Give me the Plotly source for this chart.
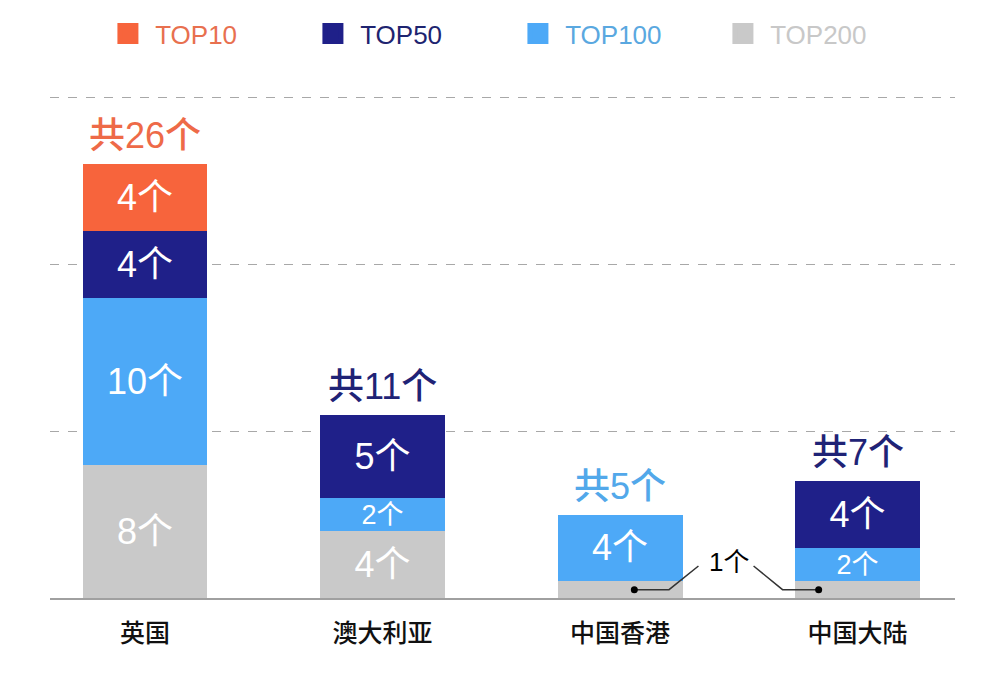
import plotly.graph_objects as go

categories = ["英国", "澳大利亚", "中国香港", "中国大陆"]
series_names = ["TOP10", "TOP50", "TOP100", "TOP200"]
top10 = [4, 0, 0, 0]
top50 = [4, 5, 0, 4]
top100 = [10, 2, 4, 2]
top200 = [8, 4, 1, 1]
totals = [26, 11, 5, 7]
total_colors = ["#EE6A48", "#1F2376", "#52A8EA", "#1F2376"]

bar_colors = {"TOP10": "#F7643C", "TOP50": "#1F2089", "TOP100": "#4DA9F7", "TOP200": "#C9C9C9"}
legend_text_colors = {"TOP10": "#E8704F", "TOP50": "#1E2470", "TOP100": "#5AA8E0", "TOP200": "#C8C8C8"}
values = {"TOP10": top10, "TOP50": top50, "TOP100": top100, "TOP200": top200}

FONT = "Liberation Sans, Noto Sans CJK SC, sans-serif"
CJK = "Noto Sans CJK SC, sans-serif"
xs = list(range(len(categories)))

fig = go.Figure()

# stacked bars, bottom first
for name in ["TOP200", "TOP100", "TOP50", "TOP10"]:
    vals = values[name]
    fig.add_trace(go.Bar(
        x=xs, y=vals, name=name, showlegend=False,
        marker=dict(color=bar_colors[name], line=dict(width=0)),
        width=0.526,
        text=[f"{v}个" if v > 1 else "" for v in vals],
        textposition="inside", insidetextanchor="middle",
        textfont=dict(color="white", size=[27 if v <= 2 else 36 for v in vals], family=FONT),
        constraintext="none",
        hoverinfo="skip",
    ))

# legend entries
for name in series_names:
    fig.add_trace(go.Scatter(
        x=[None], y=[None], mode="markers",
        name=f"&nbsp;<span style='color:{legend_text_colors[name]}'>{name}</span>",
        marker=dict(symbol="square", size=16, color=bar_colors[name],
                    line=dict(color=bar_colors[name], width=5)),
    ))

# total labels
for i, (t, c) in enumerate(zip(totals, total_colors)):
    fig.add_annotation(x=xs[i], y=t, text=f"共{t}个", showarrow=False, yanchor="bottom", yshift=6,
                       font=dict(size=36, color=c, family=FONT, weight=500))

# leader lines for the "1个" segments
hk, cn = xs[2], xs[3]
mid_y = top200[2] / 2
fig.add_trace(go.Scatter(x=[hk + 0.06, hk + 0.206, hk + 0.33], y=[mid_y, mid_y, 1.92], mode="lines",
                         line=dict(color="#333333", width=1.5), showlegend=False, hoverinfo="skip"))
fig.add_trace(go.Scatter(x=[cn - 0.164, cn - 0.316, cn - 0.438], y=[top200[3] / 2, top200[3] / 2, 1.92], mode="lines",
                         line=dict(color="#333333", width=1.5), showlegend=False, hoverinfo="skip"))
fig.add_trace(go.Scatter(x=[hk + 0.06, cn - 0.164], y=[mid_y, top200[3] / 2], mode="markers",
                         marker=dict(color="black", size=7), showlegend=False, hoverinfo="skip"))
fig.add_annotation(x=hk + 0.46, y=2.16, text=f"{top200[2]}个", showarrow=False,
                   font=dict(size=26, color="black", family=FONT))

# page body has an 8px margin, so the figure is 8px smaller than the window
fig.update_layout(
    width=992, height=673,
    margin=dict(l=42, r=45, t=73, b=83, autoexpand=False),
    barmode="stack",
    plot_bgcolor="white", paper_bgcolor="white",
    font=dict(family=FONT),
    legend=dict(orientation="h", traceorder="normal", x=0.064, xanchor="left", y=0.997, yanchor="top",
                yref="container", entrywidth=160, entrywidthmode="pixels",
                font=dict(size=26, family=FONT), bgcolor="rgba(0,0,0,0)"),
    xaxis=dict(range=[-0.4, 3.41], tickvals=xs, ticktext=categories, showgrid=False,
               showline=True, linecolor="#A0A0A0", linewidth=1.5, ticks="", ticklabelstandoff=12,
               tickfont=dict(size=25, color="#111111", family=CJK, weight=500), zeroline=False, fixedrange=True),
    yaxis=dict(range=[0, 31], tickvals=[10, 20, 30], showticklabels=False, showgrid=True,
               gridcolor="#A8A8A8", griddash="dash", gridwidth=1, zeroline=False, fixedrange=True),
)

fig.write_html("out.html")
